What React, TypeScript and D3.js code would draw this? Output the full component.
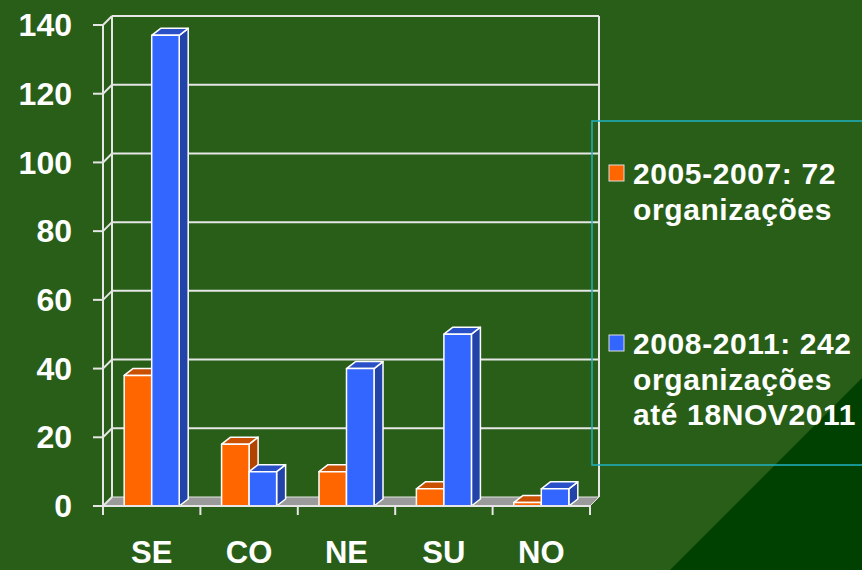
import React from 'react';
import * as d3 from 'd3';

const categories = ['SE', 'CO', 'NE', 'SU', 'NO'];
const seriesNames = ['2005-2007', '2008-2011'];
const values2005 = [38, 18, 10, 5, 1];
const values2008 = [137, 10, 40, 50, 5];
const yTicks = [0, 20, 40, 60, 80, 100, 120, 140];
const legendLines = [
  ['2005-2007: 72', 'organizações'],
  ['2008-2011: 242', 'organizações', 'até 18NOV2011'],
];

const W = 862, H = 570;
const font = 'Liberation Sans, Arial, sans-serif';
const front = ['#ff6600', '#3366ff'];
const side = ['#b04400', '#2244a8'];
const top = ['#c85000', '#2a50c8'];

// depth of the back wall and of the bars
const wdx = 9, wdy = -9;
const bdx = 9, bdy = -7;

const App = () => {
  const y = d3.scaleLinear().domain([0, 140]).range([506, 25]);
  const x = d3.scaleBand().domain(categories).range([103, 590]).paddingInner(0);
  const xs = d3.scaleBand().domain(seriesNames).range([0, x.bandwidth()]).paddingOuter(0.77).paddingInner(0);
  const bw = xs.bandwidth();
  const y0 = y(0);
  const x0 = 103, x1 = 590;

  const bars = [];
  categories.forEach((c, i) => {
    [values2005[i], values2008[i]].forEach((v, s) => {
      const bx = x(c) + xs(seriesNames[s]);
      const yt = y(v);
      bars.push(
        <g key={c + s} stroke="#ffffff" strokeWidth={1.5} strokeLinejoin="round">
          <polygon fill={side[s]} points={`${bx + bw},${yt} ${bx + bw + bdx},${yt + bdy} ${bx + bw + bdx},${y0 + bdy} ${bx + bw},${y0}`} />
          <polygon fill={top[s]} points={`${bx},${yt} ${bx + bdx},${yt + bdy} ${bx + bw + bdx},${yt + bdy} ${bx + bw},${yt}`} />
          <rect x={bx} y={yt} width={bw} height={y0 - yt} fill={front[s]} />
        </g>
      );
    });
  });

  return (
    <svg width={W} height={H} style={{ position: 'absolute', left: 0, top: 0, display: 'block' }}>
      <rect x={0} y={0} width={W} height={H} fill="#285e17" />
      <polygon points={`${W},378 ${W},${H} 670,${H}`} fill="#004000" />

      {/* back wall gridlines */}
      {yTicks.filter(t => t > 0).map(t => (
        <line key={t} x1={x0 + wdx} x2={x1 + wdx} y1={y(t) + wdy} y2={y(t) + wdy} stroke="#e6e6e6" strokeWidth={2} />
      ))}
      <line x1={x0 + wdx} x2={x0 + wdx} y1={y(140) + wdy} y2={y0 + wdy} stroke="#e6e6e6" strokeWidth={2} />
      <line x1={x1 + wdx} x2={x1 + wdx} y1={y(140) + wdy} y2={y0 + wdy} stroke="#e6e6e6" strokeWidth={2} />

      {/* floor */}
      <polygon points={`${x0},${y0} ${x1},${y0} ${x1 + wdx},${y0 + wdy} ${x0 + wdx},${y0 + wdy}`} fill="#9a9a9a" stroke="#e6e6e6" strokeWidth={1} />

      {/* left wall */}
      <line x1={x0} x2={x0} y1={y(140)} y2={y0} stroke="#e6e6e6" strokeWidth={2} />
      {yTicks.map(t => (
        <g key={t} stroke="#e6e6e6" strokeWidth={2}>
          <line x1={x0 - 10} x2={x0} y1={y(t)} y2={y(t)} />
          <line x1={x0} x2={x0 + wdx} y1={y(t)} y2={y(t) + wdy} />
        </g>
      ))}

      {bars}

      {/* x axis */}
      <line x1={x0} x2={x1} y1={y0} y2={y0} stroke="#e6e6e6" strokeWidth={2} />
      {categories.map(c => x(c)).concat([x1]).map((tx, i) => (
        <line key={i} x1={tx} x2={tx} y1={y0} y2={y0 + 9} stroke="#e6e6e6" strokeWidth={2} />
      ))}

      {yTicks.map(t => (
        <text key={t} x={72} y={y(t)} dy="0.35em" textAnchor="end" fill="#ffffff" fontFamily={font} fontWeight="bold" fontSize={32}>{t}</text>
      ))}
      {categories.map(c => (
        <text key={c} x={x(c) + x.bandwidth() / 2} y={563} textAnchor="middle" fill="#ffffff" fontFamily={font} fontWeight="bold" fontSize={31}>{c}</text>
      ))}

      {/* legend */}
      <rect x={592} y={121} width={300} height={344} fill="none" stroke="#1fb2c4" strokeWidth={1.5} />
      {legendLines.map((lines, s) => {
        const by = s === 0 ? 184 : 354;
        return (
          <g key={s}>
            <rect x={609} y={by - 19} width={15} height={16} fill={front[s]} stroke="#dddddd" strokeWidth={1} />
            {lines.map((ln, j) => (
              <text key={j} x={633} y={by + j * 35.5} fill="#ffffff" fontFamily={font} fontWeight="bold" fontSize={30} letterSpacing={0.6}>{ln}</text>
            ))}
          </g>
        );
      })}
    </svg>
  );
};

export default App;
